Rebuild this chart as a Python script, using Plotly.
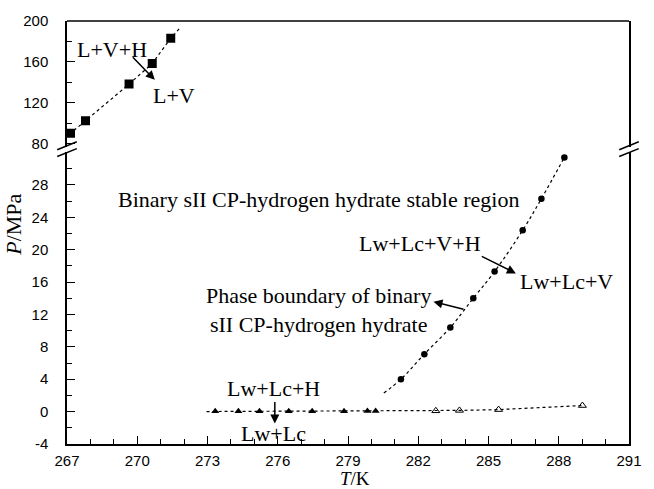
import plotly.graph_objects as go

# ---- data ----
# L+V+H (upper panel, squares)
sq_T = [267.15, 267.79, 269.65, 270.64, 271.43]
sq_P = [90.0, 102.4, 138.2, 158.4, 183.1]
sq_line_T = [267.1, 267.79, 268.7, 269.65, 270.64, 271.43, 271.85]
sq_line_P = [89.0, 102.4, 119.5, 138.2, 158.4, 183.1, 194.0]

# Lw+Lc+V+H (circles)
ci_T = [281.26, 282.26, 283.37, 284.35, 285.26, 286.46, 287.26, 288.24]
ci_P = [4.0, 7.1, 10.4, 14.0, 17.3, 22.4, 26.3, 31.4]
ci_line_T = [280.53, 281.26, 282.26, 283.37, 284.35, 285.26, 286.46, 287.26, 288.24]
ci_line_P = [2.3, 4.0, 7.1, 10.4, 14.0, 17.3, 22.4, 26.3, 31.4]

# Lw+Lc+H (filled triangles)
tf_T = [273.33, 274.32, 275.22, 276.47, 277.47, 278.83, 279.83, 280.18]
tf_P = [0.03, 0.04, 0.04, 0.05, 0.05, 0.06, 0.07, 0.07]
# open triangles
to_T = [282.75, 283.76, 285.43, 289.01]
to_P = [0.1, 0.15, 0.25, 0.75]
tri_line_T = [272.96] + tf_T + to_T
tri_line_P = [0.0] + tf_P + to_P

x_ticks = [267, 270, 273, 276, 279, 282, 285, 288, 291]
x_minor = [268, 269, 271, 272, 274, 275, 277, 278, 280, 281, 283, 284, 286, 287, 289, 290]
y_low_ticks = [-4, 0, 4, 8, 12, 16, 20, 24, 28]
y_low_labels = ["-4", "0", "4", "8", "12", "16", "20", "24", "28"]
y_low_minor = [-2, 2, 6, 10, 14, 18, 22, 26, 30]
y_up_ticks = [80, 120, 160, 200]
y_up_minor = [100, 140, 180]

SERIF = "Liberation Serif, Times New Roman, serif"
SANS = "Liberation Sans, Arial, sans-serif"

fig = go.Figure()

dot = dict(color="black", width=1.2, dash="dot")
fig.add_trace(go.Scatter(x=sq_line_T, y=sq_line_P, xaxis="x", yaxis="y2", mode="lines",
                         line=dot, hoverinfo="skip"))
fig.add_trace(go.Scatter(x=sq_T, y=sq_P, xaxis="x", yaxis="y2", mode="markers",
                         marker=dict(symbol="square", size=9, color="black")))
fig.add_trace(go.Scatter(x=ci_line_T, y=ci_line_P, mode="lines", line=dict(color="black", width=1.2, dash="dot", shape="spline"),
                         hoverinfo="skip"))
fig.add_trace(go.Scatter(x=ci_T, y=ci_P, mode="markers",
                         marker=dict(symbol="circle", size=6.5, color="black")))
fig.add_trace(go.Scatter(x=tri_line_T, y=tri_line_P, mode="lines",
                         line=dict(color="black", width=1.2, dash="3px,3px"), hoverinfo="skip"))
fig.add_trace(go.Scatter(x=tf_T, y=tf_P, mode="markers",
                         marker=dict(symbol="triangle-up", size=7, color="black")))
fig.add_trace(go.Scatter(x=to_T, y=to_P, mode="markers",
                         marker=dict(symbol="triangle-up-open", size=7, color="black", line=dict(width=1))))

# domains (lower panel top at the break, upper panel bottom at the break)
low_dom = [0, 0.691]
up_dom = [0.703, 1]

axis_common = dict(showgrid=False, zeroline=False, ticks="inside", ticklen=8, tickwidth=1.2,
                   tickcolor="black", linecolor="black", linewidth=1.5, showline=True,
                   tickfont=dict(family=SANS, size=15, color="black"))

fig.update_layout(
    width=654, height=489,
    margin=dict(l=67, r=12, t=20, b=45),
    paper_bgcolor="white", plot_bgcolor="white",
    showlegend=False,
    xaxis=dict(range=[267, 291], tickmode="array", tickvals=x_ticks,
               minor=dict(tickvals=x_minor, ticks="inside", ticklen=5, tickcolor="black", tickwidth=1.2),
               anchor="y", ticklabelstandoff=2, **axis_common),
    yaxis=dict(range=[-4, 32.1], domain=low_dom, tickmode="array", tickvals=y_low_ticks,
               ticktext=y_low_labels,
               minor=dict(tickvals=y_low_minor, ticks="inside", ticklen=5, tickcolor="black", tickwidth=1.2),
               mirror=True, anchor="x", ticklabelstandoff=14, **axis_common),
    yaxis2=dict(range=[77, 200], domain=up_dom, tickmode="array", tickvals=y_up_ticks,
                minor=dict(tickvals=y_up_minor, ticks="inside", ticklen=5, tickcolor="black", tickwidth=1.2),
                mirror=True, anchor="x", ticklabelstandoff=14, **axis_common),
)

# frame top line and axis-break marks
shapes = [dict(type="line", xref="paper", yref="paper", x0=0, x1=1, y0=1, y1=1,
               line=dict(color="black", width=1.5))]
dx, dy = 0.0174, 0.0094
for xc in (0, 1):
    for yc in (up_dom[0] + 0.002, low_dom[1] - 0.002):
        shapes.append(dict(type="line", xref="paper", yref="paper",
                           x0=xc - dx, x1=xc + dx, y0=yc - dy, y1=yc + dy,
                           line=dict(color="black", width=1.5)))
fig.update_layout(shapes=shapes)

tf = dict(family=SERIF, size=22, color="black")
ann = []
def text(x, y, s, yref="y"):
    ann.append(dict(x=x, y=y, xref="x", yref=yref, text=s, showarrow=False, font=tf,
                    xanchor="center", yanchor="middle"))
def arrow(xt, yt, xh, yh, yref="y"):
    ann.append(dict(x=xh, y=yh, ax=xt, ay=yt, xref="x", yref=yref, axref="x", ayref=yref,
                    text="", showarrow=True, arrowhead=2, arrowsize=1.2, arrowwidth=1.5,
                    arrowcolor="black", standoff=0, startstandoff=0))

text(268.92, 171.7, "L+V+H", "y2")
text(271.58, 126.8, "L+V", "y2")
arrow(269.75, 165.9, 270.75, 142.4, "y2")
text(277.73, 26.17, "Binary sII CP-hydrogen hydrate stable region")
text(282.06, 20.74, "Lw+Lc+V+H")
text(288.33, 16.09, "Lw+Lc+V")
arrow(284.65, 19.26, 286.17, 17.07)
text(277.75, 12.6, "Phase boundary of binary<br>sII CP-hydrogen hydrate")
arrow(284.0, 12.6, 282.65, 13.58)
text(275.81, 2.84, "Lw+Lc+H")
text(275.81, -2.68, "Lw+Lc")
arrow(275.875, 1.36, 275.875, -1.48)

# axis titles (pixel positions converted to paper coords)
def px_to_paper(px, py):
    return (px - 67) / 575, (444 - py) / 424
xp, yp = px_to_paper(12, 224)
ann.append(dict(x=xp, y=yp, xref="paper", yref="paper", text="<i>P</i>/MPa", showarrow=False,
                textangle=-90, font=tf, xanchor="center", yanchor="middle"))
xp, yp = px_to_paper(362, 479)
ann.append(dict(x=xp, y=yp, xref="paper", yref="paper", text="<i>T</i>/K", showarrow=False,
                font=dict(family=SERIF, size=19, color="black"), xanchor="center", yanchor="middle"))
fig.update_layout(annotations=ann)

fig.write_html("out.html", config={"displayModeBar": False},
               post_script="document.body.style.margin='0';")
